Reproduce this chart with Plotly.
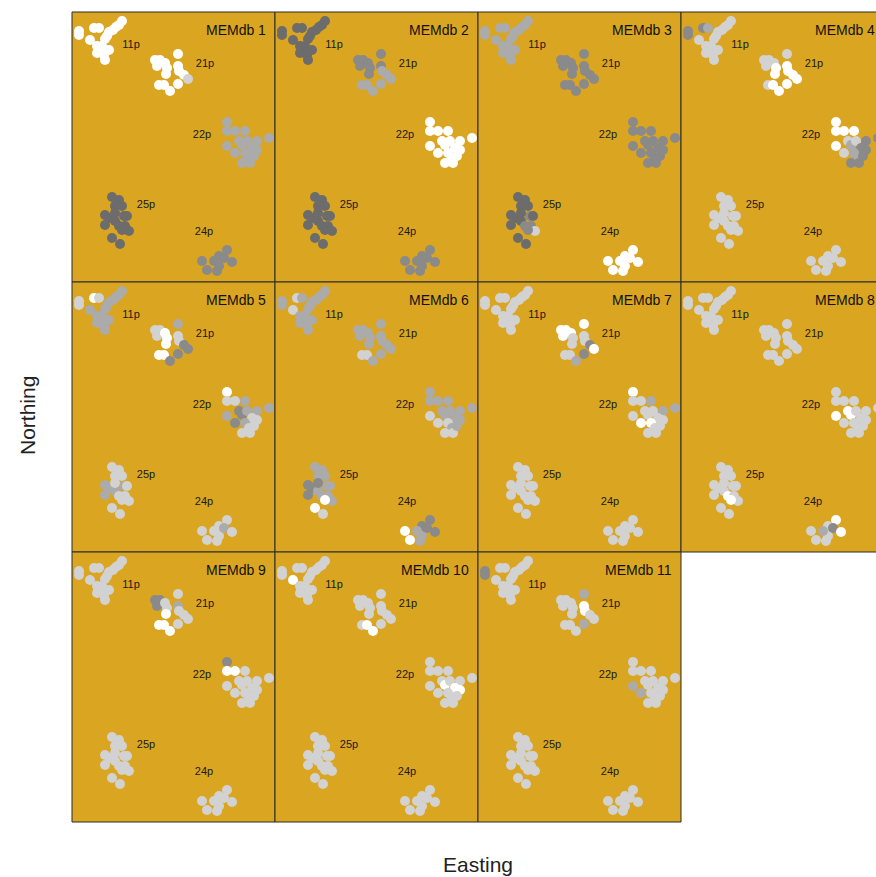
import plotly.graph_objects as go

# ---- sampling sites, grouped by population (Easting / Northing units) ----
easting_11p = [7, 7, 22, 27, 50, 47, 44, 41, 37, 35, 33, 18, 25, 30, 37, 25, 32, 33]
northing_11p = [251, 247, 254, 254, 261, 257, 255, 252, 250, 246, 243, 242, 236, 236, 232, 229, 227, 222]
easting_21p = [106, 83, 88, 85, 93, 95, 106, 107, 94, 112, 116, 87, 92, 106, 98]
northing_21p = [228, 222, 222, 216, 219, 214, 216, 211, 208, 207, 203, 197, 197, 198, 191]
easting_22p = [155, 155, 163, 173, 155, 163, 167, 170, 175, 185, 197, 180, 185, 173, 177, 170, 178, 182]
northing_22p = [160, 151, 151, 151, 136, 129, 141, 137, 141, 141, 144, 134, 132, 129, 124, 119, 119, 126]
easting_25p = [40, 47, 50, 43, 52, 33, 38, 33, 43, 47, 55, 53, 57, 50, 40, 48, 43]
northing_25p = [85, 82, 76, 76, 66, 67, 64, 57, 61, 56, 66, 56, 51, 52, 44, 38, 69]
easting_24p = [130, 135, 147, 145, 147, 155, 152, 160, 142]
northing_24p = [21, 12, 16, 11, 26, 32, 24, 20, 21]

easting = easting_11p + easting_21p + easting_22p + easting_25p + easting_24p
northing = northing_11p + northing_21p + northing_22p + northing_25p + northing_24p

# population labels and where they are written
pop_labels = ["11p", "21p", "22p", "25p", "24p"]
pop_label_e = [59, 133, 130, 74, 132]
pop_label_n = [237, 218, 147, 77, 50]

# ---- MEM scores per site, binned to grey classes (0 = white ... 4 = dark grey) ----
# site order: 11p (18), 21p (15), 22p (18), 25p (17), 24p (9)
mem1 = ([0] * 18 + [0, 0, 0, 0, 0, 0, 0, 0, 0, 0, 1, 0, 0, 0, 0]
        + [2] * 18 + [4] * 17 + [3] * 9)
mem2 = ([4] * 18 + [3, 3, 3, 3, 3, 3, 3, 2, 3, 2, 2, 2, 2, 2, 2]
        + [0] * 18 + [4] * 17 + [3] * 9)
mem3 = ([2] * 18 + [3] * 15 + [3] * 18
        + [4, 4, 4, 4, 3, 4, 4, 4, 4, 3, 4, 3, 1, 3, 4, 4, 4] + [0] * 9)
mem4 = ([3, 3, 3, 2, 1, 1, 1, 1, 1, 1, 1, 1, 1, 1, 1, 1, 1, 1]
        + [1, 1, 1, 1, 1, 0, 0, 0, 0, 0, 0, 1, 0, 0, 0]
        + [0, 0, 0, 0, 0, 1, 1, 2, 1, 3, 3, 3, 3, 2, 2, 3, 3, 3]
        + [1] * 17 + [1] * 9)
mem5 = ([1, 1, 0, 1, 2, 2, 2, 2, 2, 2, 2, 2, 2, 2, 2, 2, 2, 2]
        + [2, 1, 1, 1, 0, 0, 1, 1, 0, 3, 3, 0, 0, 3, 3]
        + [0, 1, 1, 2, 2, 3, 3, 3, 2, 2, 2, 1, 1, 2, 1, 1, 1, 1]
        + [1, 1, 1, 1, 2, 2, 2, 2, 2, 1, 1, 1, 1, 1, 1, 1, 1]
        + [1, 1, 1, 1, 1, 1, 2, 1, 1])
mem6 = ([2, 2, 1, 2, 2, 2, 2, 2, 2, 2, 2, 1, 2, 2, 2, 2, 2, 2]
        + [2, 2, 2, 2, 2, 2, 2, 2, 2, 2, 2, 1, 1, 2, 2]
        + [2, 2, 2, 2, 1, 1, 2, 2, 2, 2, 2, 2, 2, 1, 2, 1, 1, 2]
        + [2, 2, 2, 2, 2, 3, 3, 3, 2, 2, 2, 2, 2, 0, 0, 1, 3]
        + [0, 0, 2, 2, 3, 3, 3, 3, 2])
mem7 = ([1] * 18
        + [0, 0, 0, 0, 0, 1, 1, 1, 1, 3, 0, 1, 1, 3, 2]
        + [0, 1, 1, 2, 1, 0, 1, 1, 1, 2, 2, 1, 1, 0, 1, 1, 1, 1]
        + [1] * 17 + [1] * 9)
mem8 = ([1] * 18 + [1] * 15
        + [1, 1, 1, 1, 0, 1, 0, 0, 1, 1, 1, 1, 1, 1, 1, 1, 1, 1]
        + [1, 1, 1, 1, 1, 1, 1, 1, 1, 0, 1, 1, 1, 0, 1, 1, 1]
        + [1, 1, 1, 1, 1, 0, 3, 0, 2])
mem9 = ([1] * 18
        + [1, 3, 3, 3, 1, 1, 2, 1, 0, 1, 1, 0, 0, 1, 0]
        + [3, 0, 0, 1, 1, 1, 1, 1, 1, 1, 1, 1, 1, 1, 1, 1, 1, 1]
        + [1] * 17 + [1] * 9)
mem10 = ([1, 1, 1, 1, 1, 1, 1, 1, 1, 1, 1, 0, 1, 1, 1, 1, 1, 1]
         + [1, 1, 1, 1, 1, 1, 1, 1, 1, 1, 1, 1, 0, 1, 0]
         + [1, 1, 1, 1, 1, 1, 1, 0, 1, 1, 1, 0, 0, 1, 1, 1, 1, 1]
         + [1] * 17 + [1] * 9)
mem11 = ([3, 3, 1, 1, 1, 1, 1, 1, 1, 1, 1, 1, 1, 1, 1, 1, 1, 1]
         + [2, 1, 1, 1, 1, 1, 0, 0, 1, 1, 1, 1, 1, 2, 1]
         + [1, 1, 1, 1, 2, 2, 1, 1, 1, 1, 1, 1, 1, 1, 1, 1, 1, 1]
         + [1] * 17 + [1] * 9)

mem_names = ["MEMdb %d" % i for i in range(1, 12)]
mem_scores = [mem1, mem2, mem3, mem4, mem5, mem6, mem7, mem8, mem9, mem10, mem11]

grey_classes = ["#FFFFFF", "#D2D2D2", "#ABABAB", "#8A8A8A", "#6C6C6C"]

# ---- page geometry (pixels) ----
W, H = 876, 877
panel_w, panel_h = 203, 270
left0, top0 = 72, 12
ncol = 4
E_MAX, N_MAX = 203, 270
panel_bg = "#DAA520"
FONT = "Liberation Sans, Arial, sans-serif"

fig = go.Figure()
shapes = []
annotations = []

for k, (name, scores) in enumerate(zip(mem_names, mem_scores)):
    r, c = divmod(k, ncol)
    x0 = left0 + c * panel_w
    x1 = x0 + panel_w
    y0 = top0 + r * panel_h
    y1 = y0 + panel_h
    # last column runs past the page edge: keep the scale, cut the range
    x1_vis = min(x1, W)
    e_max = E_MAX * (x1_vis - x0) / panel_w

    ax = "" if k == 0 else str(k + 1)
    fig.update_layout(**{
        "xaxis" + ax: dict(domain=[x0 / W, x1_vis / W], range=[0, e_max],
                           visible=False, fixedrange=True),
        "yaxis" + ax: dict(domain=[1 - y1 / H, 1 - y0 / H], range=[0, N_MAX],
                           visible=False, fixedrange=True),
    })

    shapes.append(dict(type="rect", xref="paper", yref="paper", layer="below",
                       x0=x0 / W, x1=x1 / W, y0=1 - y1 / H, y1=1 - y0 / H,
                       fillcolor=panel_bg, line=dict(color="#2a2a2a", width=1)))

    fig.add_trace(go.Scatter(
        x=easting, y=northing, mode="markers",
        xaxis="x" + ax, yaxis="y" + ax,
        marker=dict(size=10, color=[grey_classes[s] for s in scores],
                    line=dict(width=0)),
        hoverinfo="skip", showlegend=False,
    ))
    fig.add_trace(go.Scatter(
        x=pop_label_e, y=pop_label_n, mode="text", text=pop_labels,
        textposition="middle center",
        textfont=dict(family=FONT, size=11, color="#1a1a1a"),
        xaxis="x" + ax, yaxis="y" + ax,
        hoverinfo="skip", showlegend=False,
    ))
    annotations.append(dict(
        text=name, xref="paper", yref="paper",
        x=(x0 + 196) / W, y=1 - (y0 + 18) / H,
        xanchor="right", yanchor="middle", showarrow=False,
        font=dict(family=FONT, size=14, color="#111111"),
    ))

annotations.append(dict(text="Easting", xref="paper", yref="paper",
                        x=478 / W, y=1 - 864 / H, showarrow=False,
                        xanchor="center", yanchor="middle",
                        font=dict(family=FONT, size=21, color="#222222")))
annotations.append(dict(text="Northing", xref="paper", yref="paper",
                        x=27 / W, y=1 - 416 / H, showarrow=False, textangle=-90,
                        xanchor="center", yanchor="middle",
                        font=dict(family=FONT, size=21, color="#222222")))

fig.update_layout(
    width=W, height=H,
    margin=dict(l=0, r=0, t=0, b=0),
    paper_bgcolor="white", plot_bgcolor="rgba(0,0,0,0)",
    shapes=shapes, annotations=annotations,
)

fig.write_html("out.html")
